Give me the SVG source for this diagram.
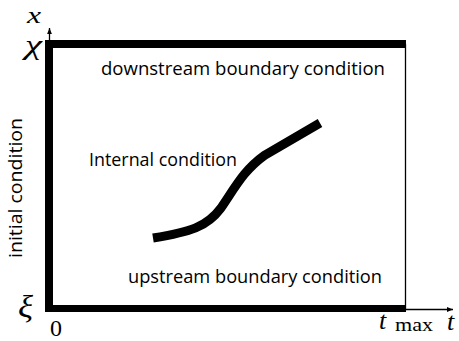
<svg xmlns="http://www.w3.org/2000/svg" width="459" height="341" viewBox="0 0 459 341">
<style>
.lbl{font-family:"Open Sans","Liberation Sans",sans-serif;font-size:19px;fill:#000}
.m{font-family:"Liberation Serif","DejaVu Serif",serif;font-style:italic;fill:#000}
.r{font-family:"Liberation Serif","DejaVu Serif",serif;fill:#000}
.thin{stroke:#000;stroke-width:1.3;fill:none}
</style>
<defs>
<marker id="ah" viewBox="0 0 10 10" refX="10" refY="5" markerWidth="6" markerHeight="6" orient="auto" markerUnits="userSpaceOnUse">
<path d="M0,1 L10,5 L0,9 Z" fill="#000"/>
</marker>
</defs>
<rect width="459" height="341" fill="#fff"/>
<g id="connectors">
<line class="thin" x1="49.5" y1="310" x2="49.5" y2="28" marker-end="url(#ah)"/>
<line class="thin" x1="49.5" y1="309.5" x2="453" y2="309.5" marker-end="url(#ah)"/>
<line class="thin" x1="405.5" y1="44" x2="405.5" y2="309"/>
</g>
<g id="boundaries">
<rect x="45" y="40" width="8" height="272" fill="#000"/>
<rect x="45" y="40" width="361" height="8" fill="#000"/>
<rect x="45" y="305" width="361" height="7" fill="#000"/>
</g>
<g id="internal">
<path d="M153,238 C190,232 207,227 221,208 C236,186 244,170 265,155 L320,123" stroke="#000" stroke-width="9" fill="none"/>
</g>
<g id="labels">
<text class="lbl" x="101" y="75" textLength="284" lengthAdjust="spacingAndGlyphs">downstream boundary condition</text>
<text class="lbl" x="89" y="166" textLength="148" lengthAdjust="spacingAndGlyphs">Internal condition</text>
<text class="lbl" x="128" y="283" textLength="254" lengthAdjust="spacingAndGlyphs">upstream boundary condition</text>
<text class="lbl" transform="translate(22,258) rotate(-90)" x="0" y="0" textLength="140" lengthAdjust="spacingAndGlyphs">initial condition</text>
</g>
<g id="math">
<text class="m" x="27" y="23" font-size="24" textLength="14" lengthAdjust="spacingAndGlyphs">x</text>
<text class="m" x="25" y="54" font-size="27" textLength="17" lengthAdjust="spacingAndGlyphs">χ</text>
<text class="m" x="18" y="317" font-size="32" textLength="15" lengthAdjust="spacingAndGlyphs">ξ</text>
<text class="r" x="50" y="336" font-size="24">0</text>
<text class="m" x="379" y="329" font-size="26">t</text>
<text class="r" x="395" y="331" font-size="18" textLength="38" lengthAdjust="spacingAndGlyphs">max</text>
<text class="m" x="447" y="330" font-size="26">t</text>
</g>
</svg>
